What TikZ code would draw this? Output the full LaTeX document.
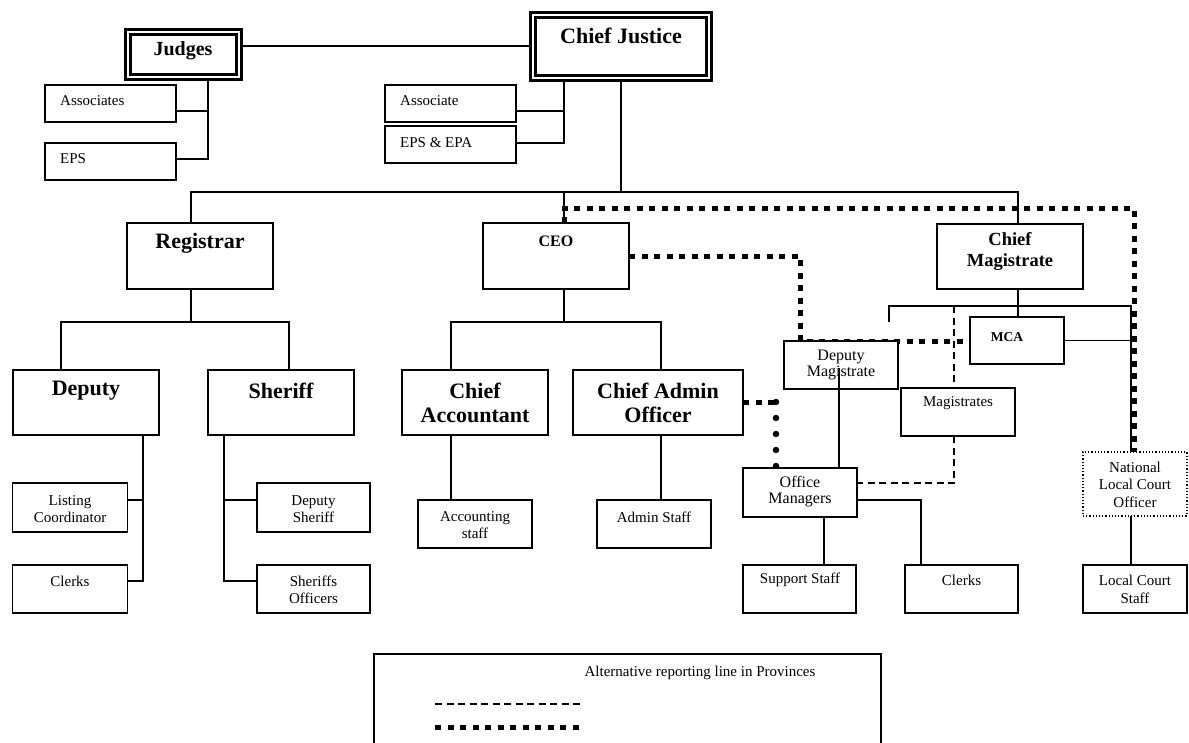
\documentclass[tikz,border=0pt]{standalone}
\usepackage{fontspec}
\setmainfont{Liberation Serif}
\usetikzlibrary{backgrounds}
\begin{document}
\begin{tikzpicture}[x=1pt,y=-1pt,
  box/.style={draw=black, line width=1.7pt, fill=white, inner sep=0pt, outer sep=0pt},
  dbox/.style={draw=black, line width=3pt, double=white, double distance=2pt, fill=white, inner sep=0pt, outer sep=0pt},
  dotbox/.style={draw=black, line width=1.2pt, dotted, fill=white, inner sep=0pt, outer sep=0pt},
  bigt/.style={font=\bfseries\fontsize{22}{24}\selectfont, align=center, inner sep=0pt},
  midt/.style={font=\bfseries\fontsize{18.5}{21}\selectfont, align=center, inner sep=0pt},
  smt/.style={font=\fontsize{15}{17}\selectfont, align=center, inner sep=0pt},
  conn/.style={draw=black, line width=1.9pt},
  dashln/.style={draw=black, line width=1.5pt, dash pattern=on 7pt off 4.5pt},
  sqdot/.style={draw=black, line width=5pt, dash pattern=on 6pt off 6.5pt},
  rddot/.style={draw=black, line width=6.5pt, line cap=round, dash pattern=on 0pt off 16pt}
]
\useasboundingbox (0,0) rectangle (1189,742);

% top level
\node[dbox, minimum width=111pt, minimum height=45pt] (judges) at (183,54) {};
\node[font=\bfseries\fontsize{20}{22}\selectfont, inner sep=0pt] (tjudges) at (183,51) {Judges};
\node[dbox, minimum width=176pt, minimum height=63pt] (cj) at (620.5,46) {};
\node[bigt] (tcj) at (621,36) {Chief Justice};

\node[box, minimum width=131pt, minimum height=37pt] (assoc1) at (110.5,103.5) {};
\node[smt, anchor=west] (tassoc1) at (60,101) {Associates};
\node[box, minimum width=131pt, minimum height=37pt] (eps1) at (110.5,161.5) {};
\node[smt, anchor=west] (teps1) at (60,159) {EPS};
\node[box, minimum width=131pt, minimum height=37pt] (assoc2) at (450.5,103.5) {};
\node[smt, anchor=west] (tassoc2) at (400,101) {Associate};
\node[box, minimum width=131pt, minimum height=37pt] (eps2) at (450.5,144.5) {};
\node[smt, anchor=west] (teps2) at (400,143) {EPS \& EPA};

% second level
\node[box, minimum width=146pt, minimum height=66pt] (reg) at (200,256) {};
\node[bigt] (treg) at (200,243) {Registrar};
\node[box, minimum width=146pt, minimum height=66pt] (ceo) at (556,256) {};
\node[font=\bfseries\fontsize{16}{18}\selectfont, inner sep=0pt] (tceo) at (556,241) {CEO};
\node[box, minimum width=146pt, minimum height=65pt] (cm) at (1010,256.5) {};
\node[midt] (tcm) at (1010,251.5) {Chief\\Magistrate};

% third level
\node[box, minimum width=146pt, minimum height=65pt] (deputy) at (86,402.5) {};
\node[bigt] (tdeputy) at (86,391) {Deputy};
\node[box, minimum width=146pt, minimum height=65pt] (sheriff) at (281,402.5) {};
\node[bigt] (tsheriff) at (281,391) {Sheriff};
\node[box, minimum width=146pt, minimum height=65pt] (ca) at (475,402.5) {};
\node[bigt] (tca) at (475,403) {Chief\\Accountant};
\node[box, minimum width=170pt, minimum height=65pt] (cao) at (658,402.5) {};
\node[bigt] (tcao) at (658,403) {Chief Admin\\Officer};

% fourth level
\node[box, minimum width=115pt, minimum height=49pt] (lc) at (70,507.5) {};
\node[smt] (tlc) at (70,509) {Listing\\Coordinator};
\node[box, minimum width=115pt, minimum height=48pt] (clerks1) at (70,589) {};
\node[smt] (tclerks1) at (70,581) {Clerks};
\node[box, minimum width=113pt, minimum height=49pt] (ds) at (313.5,507.5) {};
\node[smt] (tds) at (313.5,509) {Deputy\\Sheriff};
\node[box, minimum width=113pt, minimum height=48pt] (so) at (313.5,589) {};
\node[smt] (tso) at (313.5,590) {Sheriffs\\Officers};
\node[box, minimum width=114pt, minimum height=48pt] (as) at (475,524) {};
\node[smt] (tas) at (475,525) {Accounting\\staff};
\node[box, minimum width=114pt, minimum height=48pt] (ads) at (654,524) {};
\node[smt] (tads) at (654,517) {Admin Staff};

% right side
\node[box, minimum width=94pt, minimum height=47pt] (mca) at (1017,340.5) {};
\node[font=\bfseries\fontsize{13.5}{15}\selectfont, inner sep=0pt] (tmca) at (1007,337) {MCA};
\node[box, minimum width=114pt, minimum height=48pt] (dm) at (841,365) {};
\node[font=\fontsize{16}{16}\selectfont, align=center, inner sep=0pt] (tdm) at (841,365) {Deputy\\Magistrate};
\node[box, minimum width=114pt, minimum height=48pt] (mag) at (958,412) {};
\node[smt] (tmag) at (958,403) {Magistrates};
\node[box, minimum width=114pt, minimum height=49pt] (om) at (800,492.5) {};
\node[font=\fontsize{16}{16}\selectfont, align=center, inner sep=0pt] (tom) at (800,492) {Office\\Managers};
\node[box, minimum width=113pt, minimum height=48pt] (ss) at (799.5,589) {};
\node[smt] (tss) at (800,580) {Support Staff};
\node[box, minimum width=113pt, minimum height=48pt] (clerks2) at (961.5,589) {};
\node[smt] (tclerks2) at (961.5,580) {Clerks};
\node[dotbox, minimum width=104pt, minimum height=64pt] (nlco) at (1135,484) {};
\node[font=\fontsize{15}{17.5}\selectfont, align=center, inner sep=0pt] (tnlco) at (1135,484.5) {National\\Local Court\\Officer};
\node[box, minimum width=104pt, minimum height=48pt] (lcs) at (1135,589) {};
\node[font=\fontsize{15}{18}\selectfont, align=center, inner sep=0pt] (tlcs) at (1135,589) {Local Court\\Staff};

% legend
\node[box, line width=1.3pt, fill=none, minimum width=507pt, minimum height=92pt] (legend) at (627.5,700) {};
\node[smt] (tlegend) at (700,673) {Alternative reporting line in Provinces};

% coordinates
\coordinate (jl) at (0,46);
\coordinate (xj) at (208,0);
\coordinate (ya) at (0,111);
\coordinate (yb) at (0,159);
\coordinate (yc) at (0,143);
\coordinate (xc) at (564,0);
\coordinate (xcj) at (621,0);
\coordinate (ytop) at (0,192);
\coordinate (xr) at (191,0);
\coordinate (xcm) at (1018,0);
\coordinate (y2) at (0,322);
\coordinate (xd) at (61,0);
\coordinate (xs) at (289,0);
\coordinate (xa) at (451,0);
\coordinate (xo) at (661,0);
\coordinate (x143) at (143,0);
\coordinate (x224) at (224,0);
\coordinate (y500) at (0,500);
\coordinate (y581) at (0,581);
\coordinate (y306) at (0,306);
\coordinate (xn) at (1131,0);
\coordinate (xn2) at (1134,0);
\coordinate (stub) at (889,322);
\coordinate (x954) at (954,0);
\coordinate (y483) at (0,483);
\coordinate (x824) at (824,0);
\coordinate (x921) at (921,0);
\coordinate (y208) at (0,208);
\coordinate (x800) at (800,0);
\coordinate (x776) at (776,0);
\coordinate (y402) at (0,402);
\coordinate (dmo) at ([xshift=-2pt,yshift=-3pt]dm.center);
\coordinate (l1a) at (435,704);
\coordinate (l1b) at (580,704);
\coordinate (l2a) at (435,727);
\coordinate (l2b) at (580,727);

\begin{scope}[on background layer]
  \draw[conn] (judges.east |- jl) -- (cj.west |- jl);
  \draw[conn] (judges.south -| xj) |- (assoc1.east |- ya);
  \draw[conn] (judges.south -| xj) |- (eps1.east |- yb);
  \draw[conn] (cj.south -| xc) |- (assoc2.east |- ya);
  \draw[conn] (cj.south -| xc) |- (eps2.east |- yc);
  \draw[conn] (cj.south -| xcj) -- (xcj |- ytop);
  \draw[conn] (reg.north -| xr) -- (xr |- ytop) -| (cm.north -| xcm);
  \draw[conn] (ceo.north -| xc) -- (xc |- ytop);
  \draw[conn] (reg.south -| xr) -- (xr |- y2);
  \draw[conn] (deputy.north -| xd) -- (xd |- y2) -| (sheriff.north -| xs);
  \draw[conn] (ceo.south -| xc) -- (xc |- y2);
  \draw[conn] (ca.north -| xa) -- (xa |- y2) -| (cao.north -| xo);
  \draw[conn] (deputy.south -| x143) |- (clerks1.east |- y581);
  \draw[conn] (lc.east |- y500) -- (x143 |- y500);
  \draw[conn] (sheriff.south -| x224) |- (so.west |- y581);
  \draw[conn] (ds.west |- y500) -- (x224 |- y500);
  \draw[conn] (ca.south -| xa) -- (as.north -| xa);
  \draw[conn] (cao.south -| xo) -- (ads.north -| xo);
  \draw[conn] (cm.south -| xcm) -- (mca.north -| xcm);
  \draw[conn] (stub) |- (xn |- y306) -- (nlco.north -| xn);
  \draw[conn] (mca.east) -- (mca.east -| xn);
  \draw[dashln] (x954 |- y306) -- (mag.north -| x954);
  \draw[dashln] (mag.south -| x954) |- (om.east |- y483);
  \draw[conn] (om.south -| x824) -- (ss.north -| x824);
  \draw[conn] (om.east |- y500) -| (clerks2.north -| x921);
  \draw[conn] (nlco.south -| xn) -- (lcs.north -| xn);
  \draw[sqdot] (ceo.north -| xc) -- (xc |- y208) -| (nlco.north -| xn2);
  \draw[sqdot] (ceo.east) -| (dm.north -| x800) -- (mca.west |- dm.north);
  \draw[sqdot] (cao.east |- y402) -- (x776 |- y402);
  \draw[rddot] (x776 |- y402) -- (om.north -| x776);
\end{scope}

\draw[conn] (dmo) -- (dmo |- om.north);
\draw[dashln] (l1a) -- (l1b);
\draw[sqdot] (l2a) -- (l2b);
\end{tikzpicture}
\end{document}
